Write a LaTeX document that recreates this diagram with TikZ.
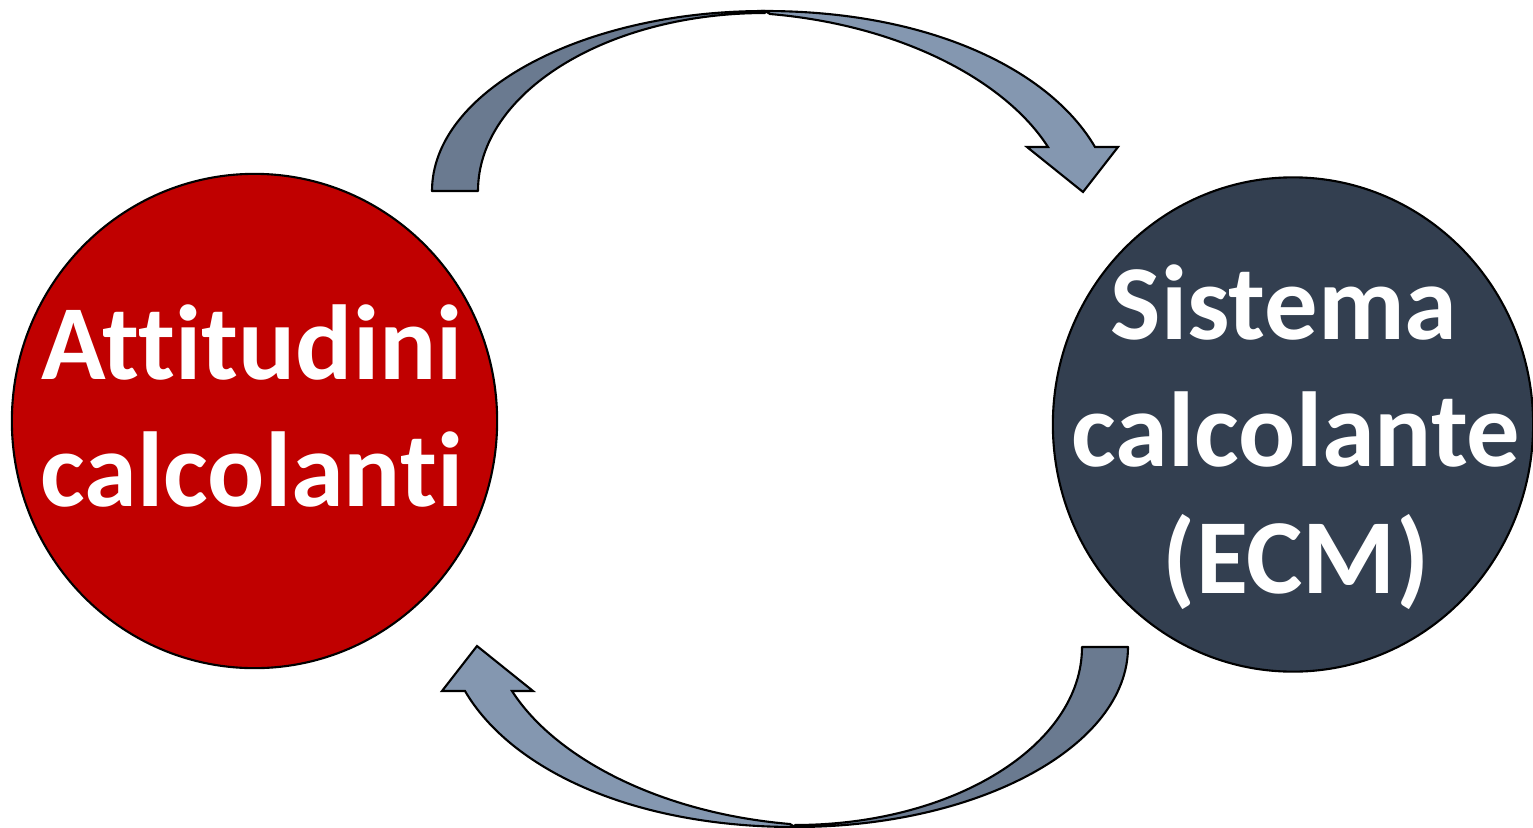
\documentclass[tikz,border=0pt]{standalone}
\usepackage{fontspec}
\setmainfont{Carlito}[Ligatures = NoCommon]
\usepackage{tikz}
\usetikzlibrary{shapes.geometric}

\definecolor{attred}{HTML}{C00000}
\definecolor{sisblue}{HTML}{333F50}
\definecolor{arrowback}{HTML}{6A7A90}
\definecolor{arrowfront}{HTML}{8497B0}

\begin{document}
\begin{tikzpicture}[x = 0.01cm, y = -0.01cm,
    bubble/.style = { draw, line width = .6pt, shape = ellipse, inner sep = 0pt },
    words/.style = { text = white, align = center, inner sep = 0pt,
      font = \fontsize{30.3}{36.1}\selectfont\bfseries },
    backpart/.style = { fill = arrowback, draw, line width = .6pt, line join = round },
    frontpart/.style = { fill = arrowfront, draw, line width = .6pt, line join = miter }]
  \useasboundingbox (0,0) rectangle (1533,827);

  \node [bubble, fill = attred, minimum width = 4.85cm, minimum height = 4.94cm] (att) at (254.5,421) {};
  \node [bubble, fill = sisblue, minimum width = 4.80cm, minimum height = 4.94cm] (sis) at (1293,424.5) {};

  \node [words] (attT) at (252,406) { Attitudini \\ calcolanti };
  \node [words] (sisT) at (1296,437) { Sistema\hspace*{.226em} \\ calcolante \\ (ECM) };

  % the two curved arrows, the lower one is the upper one turned round
  \foreach \r in {0,180} {
    \begin{scope}[rotate around = {\r:(780,419)}]
      \filldraw [backpart] (432,191) .. controls (432,92) and (581,11) .. (765,11)
        -- (765,13) .. controls (606,13) and (478,93) .. (478,191) -- cycle;
      \filldraw [frontpart] (765,11) .. controls (930,11) and (1050,70) .. (1095,147)
        -- (1118,147) -- (1083,192) -- (1027,147) -- (1048,147)
        .. controls (1005,80) and (900,25) .. (770,14) -- cycle;
    \end{scope}
  }
\end{tikzpicture}
\end{document}
